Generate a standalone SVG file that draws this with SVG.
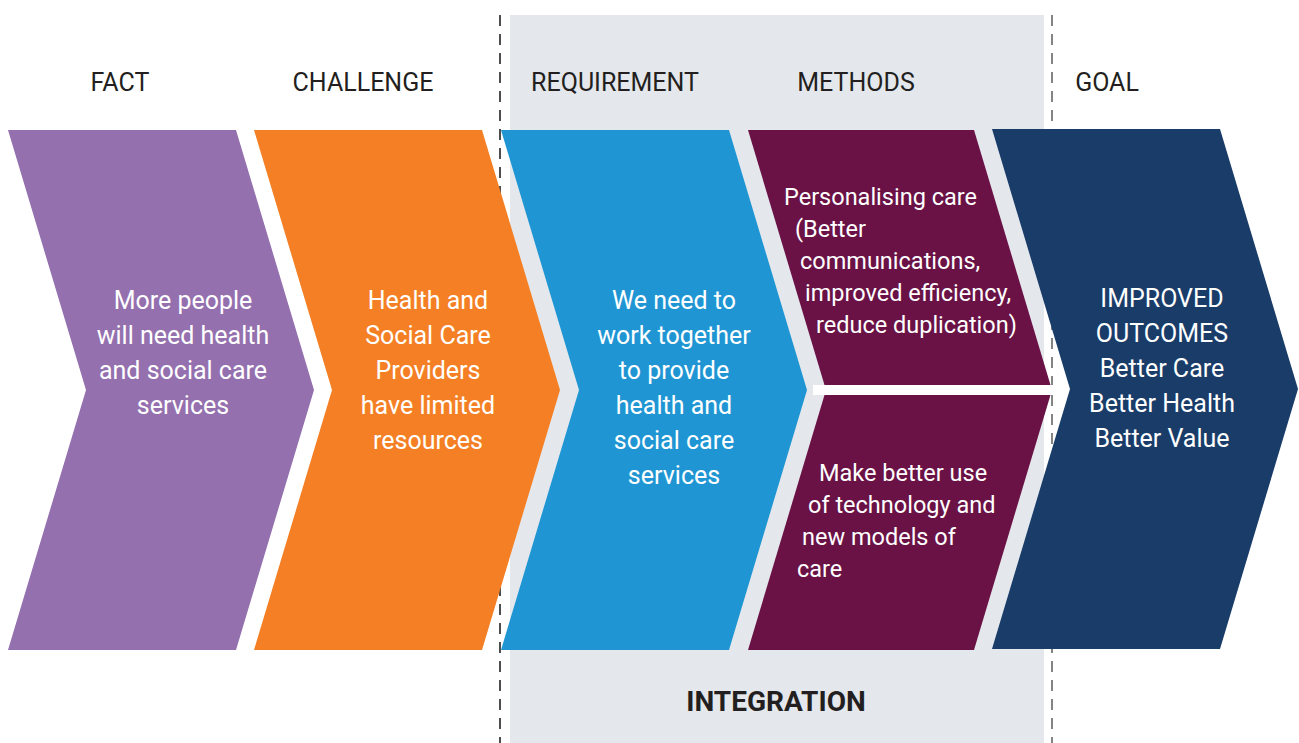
<svg xmlns="http://www.w3.org/2000/svg" width="1299" height="743" viewBox="0 0 1299 743">
<style>
.lbl{font-family:Roboto,"Liberation Sans",sans-serif;font-size:25px;fill:#231f20;text-anchor:middle}
.txt{font-family:Roboto,"Liberation Sans",sans-serif;font-size:25px;fill:#ffffff;text-anchor:middle}
.mtx{font-family:Roboto,"Liberation Sans",sans-serif;font-size:23.5px;fill:#ffffff}
.dash{stroke-width:1.6;stroke-dasharray:11 8;fill:none}
</style>
<rect width="1299" height="743" fill="#ffffff"/>
<rect id="integration-band" x="510" y="15" width="534" height="728" fill="#e4e7ec"/>
<g id="connectors">
<line class="dash" x1="500" y1="15" x2="500" y2="743" stroke="#222222"/>
<line class="dash" x1="1052" y1="15" x2="1052" y2="743" stroke="#666666"/>
</g>
<g id="labels">
<text class="lbl" x="120" y="91">FACT</text>
<text class="lbl" x="363" y="91">CHALLENGE</text>
<text class="lbl" x="615" y="91">REQUIREMENT</text>
<text class="lbl" x="856" y="91">METHODS</text>
<text class="lbl" x="1107" y="91">GOAL</text>
</g>
<g id="fact">
<polygon points="8,130 236,130 314,390 236,650 8,650 86,390" fill="#9470ae"/>
<text class="txt"><tspan x="183" y="309">More people</tspan><tspan x="183" y="344">will need health</tspan><tspan x="183" y="379">and social care</tspan><tspan x="183" y="414">services</tspan></text>
</g>
<g id="challenge">
<polygon points="254,130 482,130 560,390 482,650 254,650 332,390" fill="#f47f24"/>
<text class="txt"><tspan x="428" y="309">Health and</tspan><tspan x="428" y="344">Social Care</tspan><tspan x="428" y="379">Providers</tspan><tspan x="428" y="414">have limited</tspan><tspan x="428" y="449">resources</tspan></text>
</g>
<g id="requirement">
<polygon points="501,130 729,130 807,390 729,650 501,650 579,390" fill="#1f96d3"/>
<text class="txt"><tspan x="674" y="309">We need to</tspan><tspan x="674" y="344">work together</tspan><tspan x="674" y="379">to provide</tspan><tspan x="674" y="414">health and</tspan><tspan x="674" y="449">social care</tspan><tspan x="674" y="484">services</tspan></text>
</g>
<g id="method-personalising">
<polygon points="748,130 974,130 1050.5,385 824.5,385" fill="#6a1246"/>
<text class="mtx"><tspan x="784" y="205">Personalising care</tspan><tspan x="795" y="237">(Better</tspan><tspan x="800" y="269">communications,</tspan><tspan x="805" y="301">improved efficiency,</tspan><tspan x="816" y="333">reduce duplication)</tspan></text>
</g>
<g id="method-technology">
<polygon points="824.5,395 1050.5,395 974,650 748,650" fill="#6a1246"/>
<text class="mtx"><tspan x="819" y="481">Make better use</tspan><tspan x="808" y="513">of technology and</tspan><tspan x="802" y="545">new models of</tspan><tspan x="797" y="577">care</tspan></text>
</g>
<rect x="813" y="385" width="243" height="10" fill="#ffffff"/>
<g id="goal">
<polygon points="992,129 1220,129 1298,389 1220,649 992,649 1070,389" fill="#193c69"/>
<text class="txt"><tspan x="1162" y="307">IMPROVED</tspan><tspan x="1162" y="342">OUTCOMES</tspan><tspan x="1162" y="377">Better Care</tspan><tspan x="1162" y="412">Better Health</tspan><tspan x="1162" y="447">Better Value</tspan></text>
</g>
<g id="integration-label">
<text x="776" y="711" font-family="Roboto,'Liberation Sans',sans-serif" font-size="28" font-weight="bold" fill="#231f20" text-anchor="middle">INTEGRATION</text>
</g>
</svg>
